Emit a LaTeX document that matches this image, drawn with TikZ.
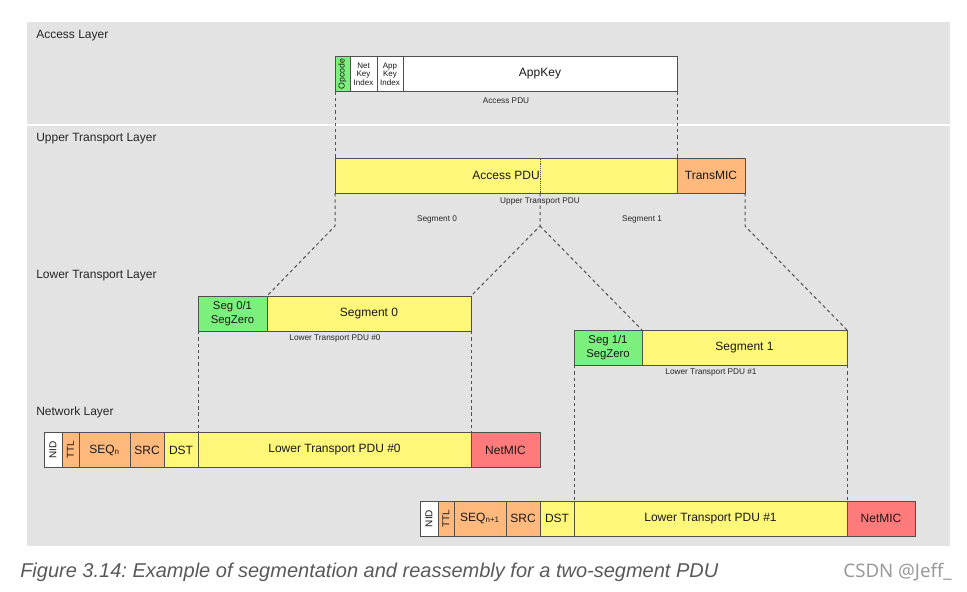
\documentclass[tikz,border=0pt]{standalone}
\usepackage{fontspec}
\usepackage{graphicx}
\setmainfont{Liberation Sans}
\newfontfamily\markfont{Noto Sans}
\usetikzlibrary{positioning}
\frenchspacing

\definecolor{bgc}{RGB}{227,227,227}
\definecolor{linec}{RGB}{80,80,80}
\definecolor{greenf}{RGB}{124,240,124}
\definecolor{yellowf}{RGB}{255,247,122}
\definecolor{orangef}{RGB}{255,185,125}
\definecolor{redf}{RGB}{255,122,122}

\tikzset{
	field/.style={draw=linec, line width=0.75pt, minimum height=26.25pt, inner sep=0pt, outer sep=0pt, align=center, text=black!90, font=\fontsize{9}{10}\selectfont},
	fw/.style={minimum width=#1*0.75pt},
	small3/.style={font=\fontsize{6}{6.4}\selectfont},
	pdulabel/.style={inner sep=0pt, text=black!85, font=\fontsize{6.2}{7}\selectfont},
	layer/.style={inner sep=0pt, anchor=west, text=black!85, font=\fontsize{9}{10}\selectfont},
	seam/.style={draw=linec, line width=0.75pt, dash pattern=on 2.5pt off 2.2pt}
}

\begin{document}
\begin{tikzpicture}[x=0.75pt,y=-0.75pt]
	\useasboundingbox (0,0) rectangle (967,592);
	\fill[bgc] (27,22) rectangle (950,546);
	\draw[white, line width=1.2pt] (27,125) -- (950,125);

	\node[layer] (accesslayer) at (36,36) {Access Layer};
	\node[layer] (upperlayer) at (36,139) {Upper Transport Layer};
	\node[layer] (lowerlayer) at (36,275.5) {Lower Transport Layer};
	\node[layer] (netlayer) at (36,412) {Network Layer};

	% access layer
	\node[field,fw=15,fill=greenf,anchor=west] (opcode) at (335,74) {\rotatebox{90}{\fontsize{6.5}{6.5}\selectfont Opcode}};
	\node[field,fw=27,fill=white,small3,right=0pt of opcode] (netidx) {Net\\Key\\Index};
	\node[field,fw=26,fill=white,small3,right=0pt of netidx] (appidx) {App\\Key\\Index};
	\node[field,fw=274,fill=white,right=0pt of appidx] (appkey) {AppKey};
	\node[pdulabel] (accesspdu) at (506,101) {Access PDU};

	% upper transport layer
	\node[field,fw=342,fill=yellowf,anchor=west] (apdu) at (335,175.5) {Access PDU};
	\node[field,fw=68,fill=orangef,right=0pt of apdu] (transmic) {TransMIC};
	\node[pdulabel] (upperpdu) at (540,201.5) {Upper Transport PDU};
	\node[pdulabel] (seglbl0) at (437,219) {Segment 0};
	\node[pdulabel] (seglbl1) at (642,219) {Segment 1};

	% lower transport layer
	\node[field,fw=69,fill=greenf,anchor=west,font=\fontsize{8.5}{10}\selectfont] (zero0) at (198,313.5) {Seg 0/1\\SegZero};
	\node[field,fw=204,fill=yellowf,right=0pt of zero0] (seg0) {Segment 0};
	\node[pdulabel] (lowerpdu0) at (335,338) {Lower Transport PDU \#0};
	\node[field,fw=68,fill=greenf,anchor=west,font=\fontsize{8.5}{10}\selectfont] (zero1) at (574,347.5) {Seg 1/1\\SegZero};
	\node[field,fw=205,fill=yellowf,right=0pt of zero1] (seg1) {Segment 1};
	\node[pdulabel] (lowerpdu1) at (711,372.5) {Lower Transport PDU \#1};

	% network layer
	\node[field,fw=18,fill=white,anchor=west] (nid0) at (44,450) {\rotatebox{90}{\fontsize{7.5}{7.5}\selectfont NID}};
	\node[field,fw=17,fill=orangef,right=0pt of nid0] (ttl0) {\rotatebox{90}{\fontsize{7.5}{7.5}\selectfont TTL}};
	\node[field,fw=51,fill=orangef,right=0pt of ttl0] (seq0) {SEQ\textsubscript{n}};
	\node[field,fw=34,fill=orangef,right=0pt of seq0] (src0) {SRC};
	\node[field,fw=34,fill=yellowf,right=0pt of src0] (dst0) {DST};
	\node[field,fw=273,fill=yellowf,right=0pt of dst0] (ltp0) {Lower Transport PDU \#0};
	\node[field,fw=69,fill=redf,right=0pt of ltp0] (netmic0) {NetMIC};

	\node[field,fw=18,fill=white,anchor=west] (nid1) at (420,518.5) {\rotatebox{90}{\fontsize{7.5}{7.5}\selectfont NID}};
	\node[field,fw=16,fill=orangef,right=0pt of nid1] (ttl1) {\rotatebox{90}{\fontsize{7.5}{7.5}\selectfont TTL}};
	\node[field,fw=52,fill=orangef,right=0pt of ttl1] (seq1) {SEQ\textsubscript{n+1}};
	\node[field,fw=34,fill=orangef,right=0pt of seq1] (src1) {SRC};
	\node[field,fw=34,fill=yellowf,right=0pt of src1] (dst1) {DST};
	\node[field,fw=273,fill=yellowf,right=0pt of dst1] (ltp1) {Lower Transport PDU \#1};
	\node[field,fw=68,fill=redf,right=0pt of ltp1] (netmic1) {NetMIC};

	% dashed seams
	\coordinate (split) at (540,193);
	\coordinate (lbend) at (335,226);
	\coordinate (mbend) at (540,226);
	\coordinate (rbend) at (745,226);
	\draw[densely dotted, linec] (split) -- (split |- apdu.north);
	\draw[seam] (opcode.south west) -- (apdu.north west);
	\draw[seam] (appkey.south east) -- (apdu.north east);
	\draw[seam] (apdu.south west) -- (lbend) -- (seg0.north west);
	\draw[seam] (split) -- (mbend) -- (seg0.north east);
	\draw[seam] (mbend) -- (seg1.north west);
	\draw[seam] (transmic.south east) -- (rbend) -- (seg1.north east);
	\draw[seam] (zero0.south west) -- (ltp0.north west);
	\draw[seam] (seg0.south east) -- (ltp0.north east);
	\draw[seam] (zero1.south west) -- (ltp1.north west);
	\draw[seam] (seg1.south east) -- (ltp1.north east);

	\node[anchor=west, inner sep=0pt, text=black!65, font=\fontsize{15}{17}\selectfont\itshape] (caption) at (20,572) {Figure 3.14: Example of segmentation and reassembly for a two-segment PDU};
	\node[anchor=east, inner sep=0pt, text=black!40, font=\markfont\fontsize{14}{16}\selectfont] (mark) at (952,572) {CSDN @Jeff\_};
\end{tikzpicture}
\end{document}
